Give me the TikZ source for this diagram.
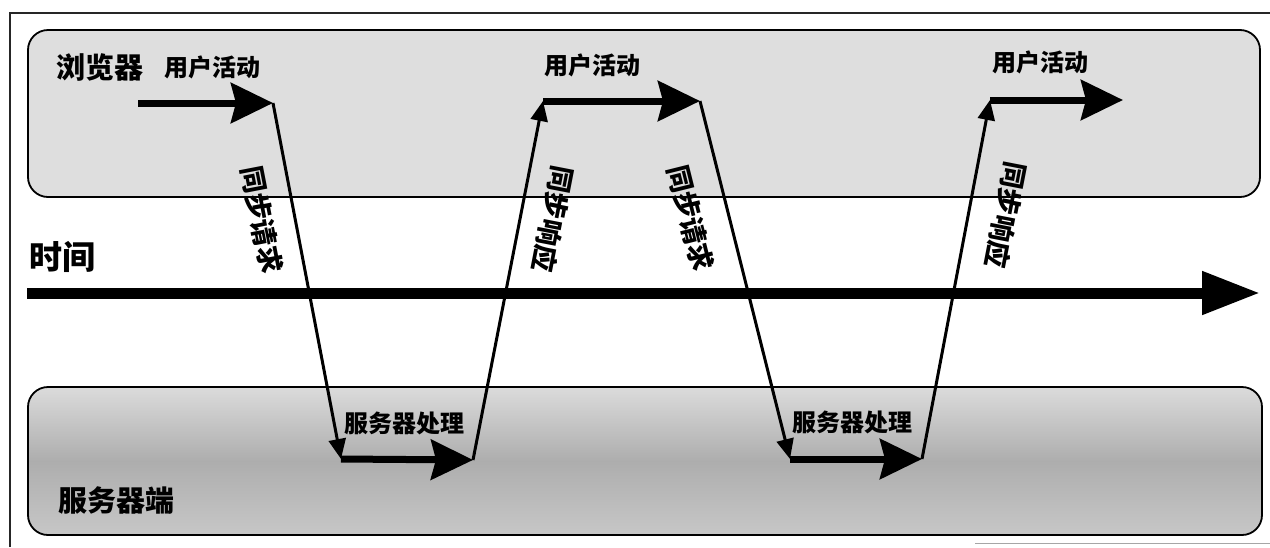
\documentclass[tikz,border=0pt]{standalone}
\usepackage{fontspec}
\newfontfamily\cjk{Noto Sans CJK SC}
\usetikzlibrary{arrows.meta}
\begin{document}
\begin{tikzpicture}[x=1pt,y=-1pt,
  panel/.style={draw=black, line width=1.8pt, rounded corners=20pt, inner sep=0pt, outer sep=0pt},
  lbl/.style={font=\cjk\bfseries\fontsize{24}{24}\selectfont, inner sep=0pt},
  biglbl/.style={font=\cjk\bfseries\fontsize{29}{29}\selectfont, inner sep=0pt},
  vlbl/.style={font=\cjk\bfseries\fontsize{27}{27}\selectfont, inner sep=0pt},
  thickarrow/.style={line width=7pt, -{Stealth[length=42pt,width=40pt,inset=5pt]}},
  thinarrow/.style={line width=3pt, -{Triangle[length=20pt,width=17pt]}},
  axisarrow/.style={line width=11pt, -{Triangle[length=58pt,width=41pt]}}
]
\useasboundingbox (0,0) rectangle (1270,547);
% outer frame (partial, as scanned)
\coordinate (f0) at (10,547);
\coordinate (f1) at (10,13);
\coordinate (f2) at (1270,13);
\draw[line width=1.6pt, black!85] (f0) -- (f1) -- (f2);
\coordinate (f3) at (975,543);
\coordinate (f4) at (1270,543);
\draw[line width=1pt, black!35] (f3) -- (f4);

% panels
\node[panel, fill=black!13, minimum width=1232pt, minimum height=167pt] (browser) at (644,113.5) {};
\node[panel, minimum width=1234pt, minimum height=148pt,
  top color=black!14, bottom color=black!22, middle color=black!32] (server) at (645,461) {};

% panel labels
\node[biglbl] (lbrowser) at (100,67) {浏览器};
\node[biglbl] (lserver) at (116,500) {服务器端};
\node[font=\cjk\bfseries\fontsize{33}{33}\selectfont, inner sep=0pt] (ltime) at (62,257) {时间};

% time axis
\coordinate (t0) at (27,293);
\coordinate (t1) at (1260,293);
\draw[axisarrow] (t0) -- (t1);

% path points
\coordinate (a1s) at (138,103);
\coordinate (a1e) at (273,103);
\coordinate (s1s) at (341,459);
\coordinate (s1e) at (473,460);
\coordinate (a2s) at (543,101);
\coordinate (a2e) at (700,101);
\coordinate (s2s) at (790,459);
\coordinate (s2e) at (922,459);
\coordinate (a3s) at (990,100);
\coordinate (a3e) at (1123,100);

% thin request/response lines
\draw[thinarrow] (a1e) -- (s1s);
\draw[thinarrow] (s1e) -- (a2s);
\draw[thinarrow] (a2e) -- (s2s);
\draw[thinarrow] (s2e) -- (a3s);

% thick activity / processing arrows
\draw[thickarrow] (a1s) -- (a1e);
\draw[thickarrow] (s1s) -- (s1e);
\draw[thickarrow] (a2s) -- (a2e);
\draw[thickarrow] (s2s) -- (s2e);
\draw[thickarrow] (a3s) -- (a3e);

% activity labels
\node[lbl] (u1) at (212,67) {用户活动};
\node[lbl] (u2) at (592,65) {用户活动};
\node[lbl] (u3) at (1040,62) {用户活动};
\node[lbl] (p1) at (404,423) {服务器处理};
\node[lbl] (p2) at (852,422) {服务器处理};

% vertical labels
\node[vlbl, rotate=-79] (q1) at (262,220) {同步请求};
\node[vlbl, rotate=-101] (r1) at (553,219) {同步响应};
\node[vlbl, rotate=-76] (q2) at (691,218) {同步请求};
\node[vlbl, rotate=-101] (r2) at (1006,215) {同步响应};
\end{tikzpicture}
\end{document}
